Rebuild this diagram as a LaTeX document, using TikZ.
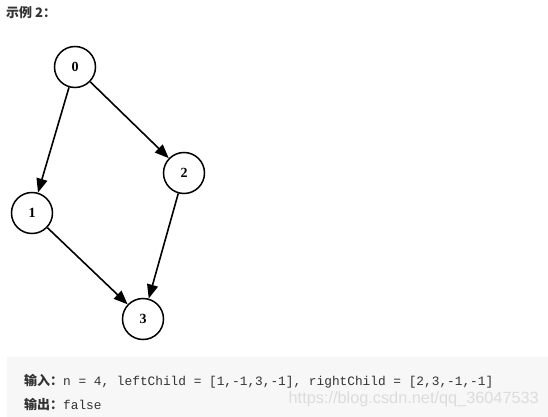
\documentclass[tikz,border=0pt]{standalone}
\usepackage{fontspec}
\setmainfont{Liberation Serif}
\setsansfont{Liberation Sans}
\setmonofont{Liberation Mono}
\newfontfamily\cjk{Noto Sans CJK SC}
\usetikzlibrary{arrows.meta}
\definecolor{boxgray}{HTML}{F7F7F7}
\definecolor{txtgray}{HTML}{333333}
\definecolor{markgray}{HTML}{DCDCDC}

\begin{document}
\begin{tikzpicture}[x=1pt,y=-1pt,>={Triangle[length=14pt,width=11pt]},
    vertex/.style={draw,circle,line width=1.5pt,minimum size=41pt,inner sep=0pt,
      font=\fontsize{14}{14}\selectfont\bfseries},
    edge/.style={->,line width=1.6pt}]
        \useasboundingbox (0,0) rectangle (548,417);
        % title
        \node [anchor=base west,text=txtgray,inner sep=0pt] (title) at (6,18)
            {\cjk\bfseries\fontsize{13}{13}\selectfont 示例 2：};
        % tree
        \node [vertex] (n0) at (75,67) {0};
        \node [vertex] (n1) at (32,213) {1};
        \node [vertex] (n2) at (184,173) {2};
        \node [vertex] (n3) at (143,319) {3};
        \draw [edge] (n0) -- (n1);
        \draw [edge] (n0) -- (n2);
        \draw [edge] (n1) -- (n3);
        \draw [edge] (n2) -- (n3);
        % example box
        \fill [boxgray] (7,357) rectangle (548,417);
        \node [anchor=base east,text=markgray,inner sep=0pt] (mark) at (539,403)
            {\sffamily\fontsize{16.3}{16.3}\selectfont https://blog.csdn.net/qq\_36047533};
        \node [anchor=base west,text=txtgray,inner sep=0pt] (input) at (24,385)
            {{\cjk\bfseries\fontsize{13}{13}\selectfont 输入：}\ttfamily\fontsize{12.8}{13}\selectfont n = 4, leftChild = [1,-1,3,-1], rightChild = [2,3,-1,-1]};
        \node [anchor=base west,text=txtgray,inner sep=0pt] (output) at (24,409)
            {{\cjk\bfseries\fontsize{13}{13}\selectfont 输出：}\ttfamily\fontsize{12.8}{13}\selectfont false};
\end{tikzpicture}
\end{document}
